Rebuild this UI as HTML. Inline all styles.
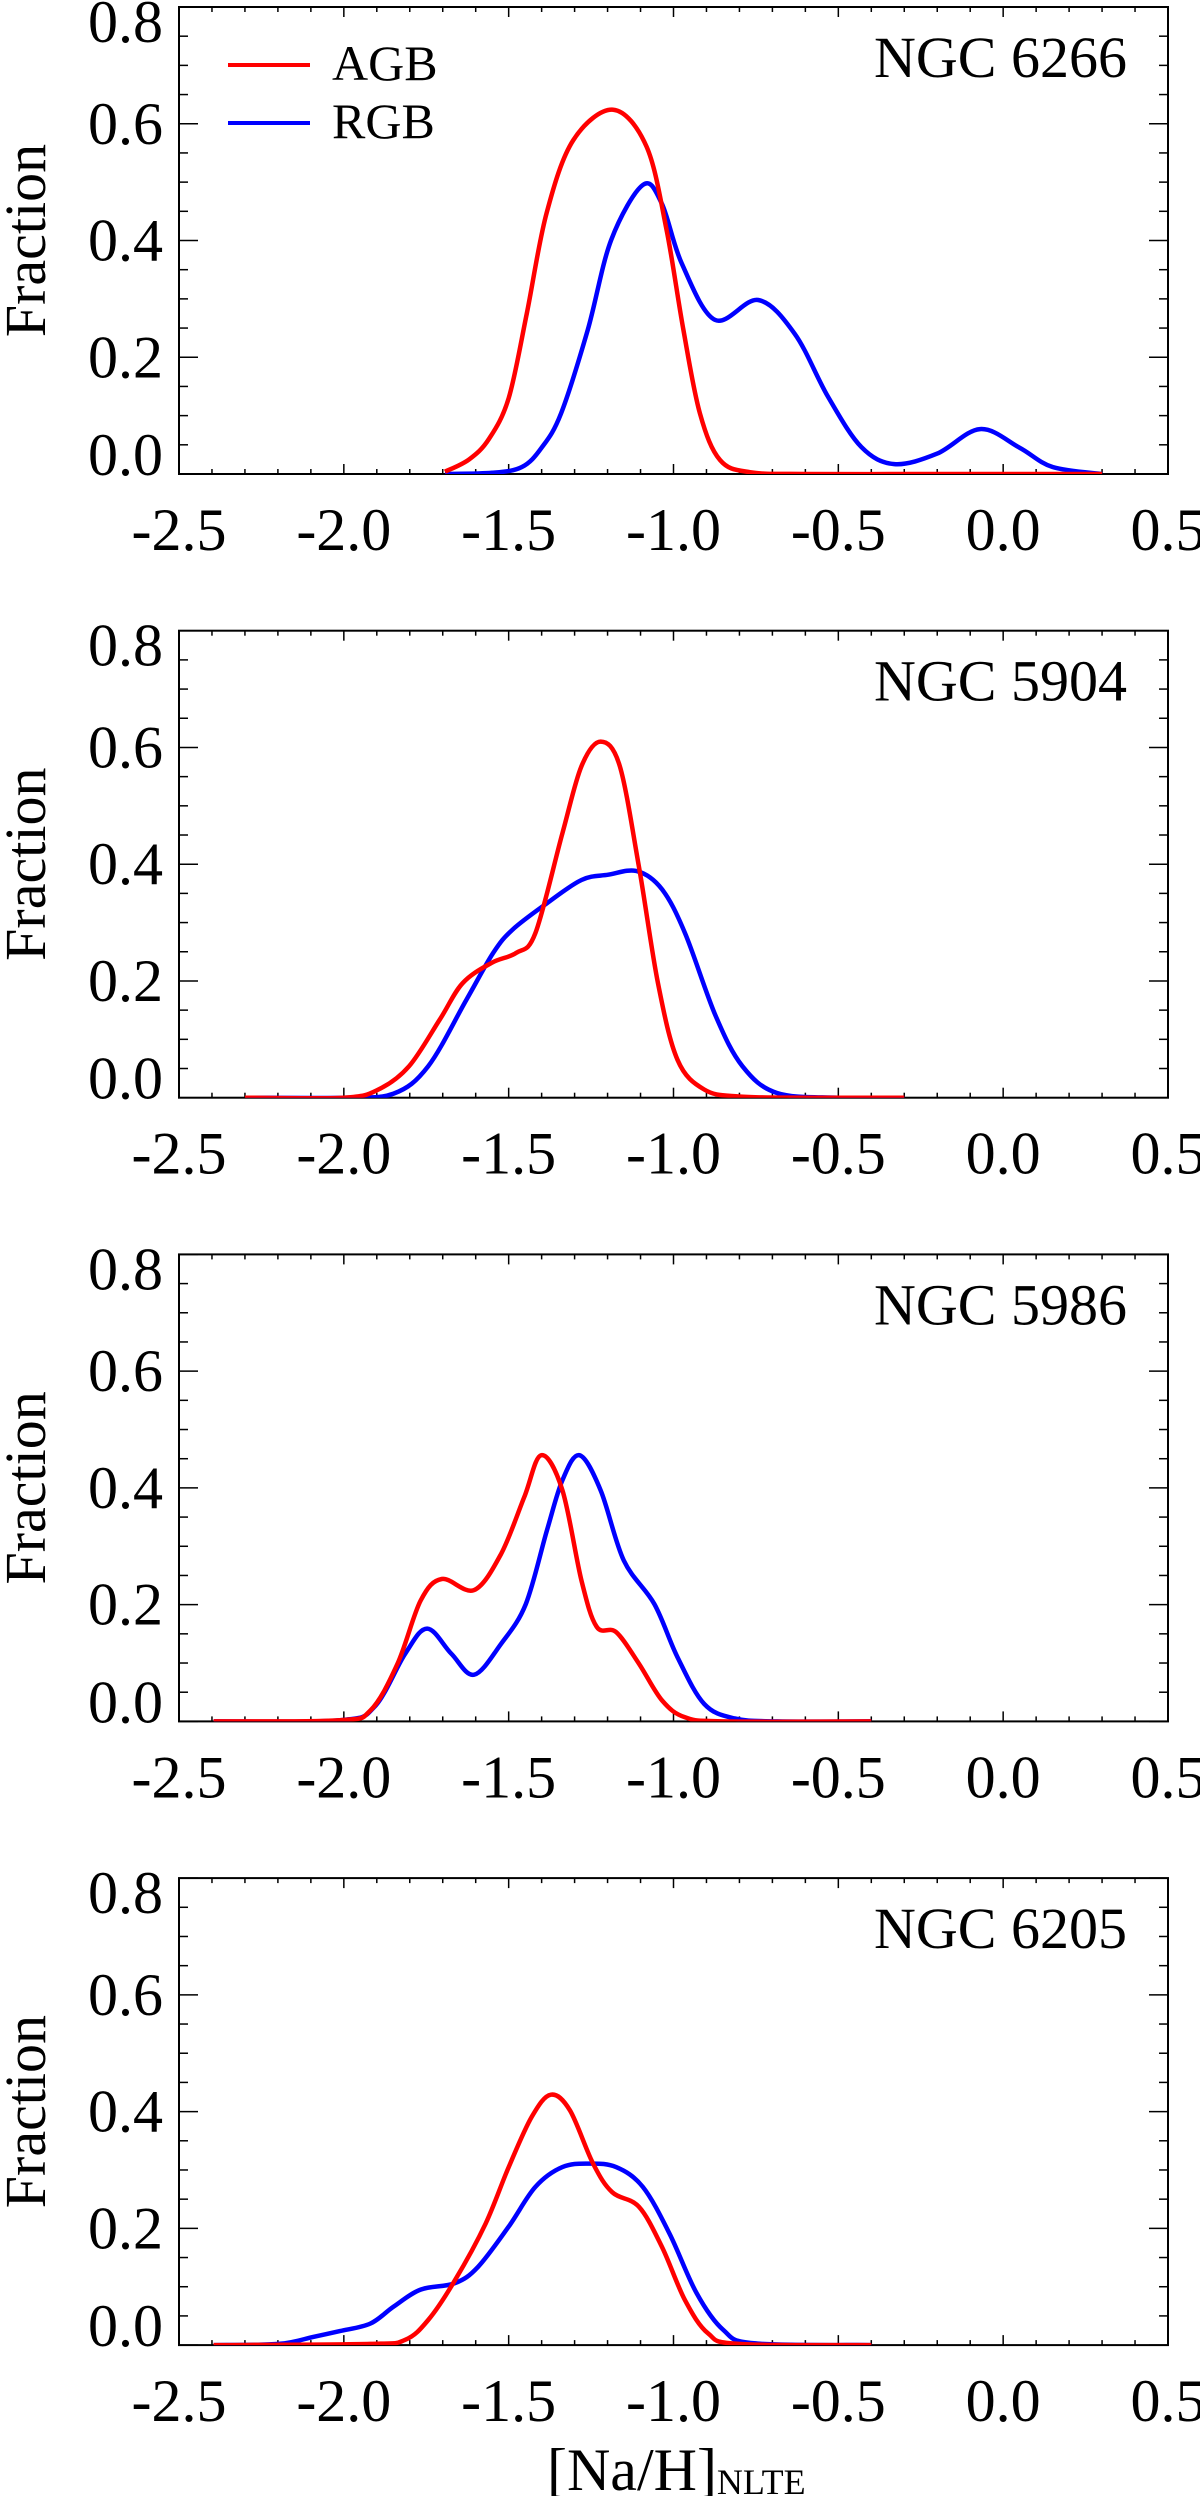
<!DOCTYPE html>
<html><head><meta charset="utf-8">
<style>
html,body{margin:0;padding:0;background:#fff;}
svg text{font-family:"Liberation Serif","Times New Roman",serif;fill:#000;}
</style></head>
<body>
<svg id="chart" width="1200" height="2496" viewBox="0 0 1200 2496" xmlns="http://www.w3.org/2000/svg"></svg>
<script>
// ---- data ----
const clusterNames = ["NGC 6266","NGC 5904","NGC 5986","NGC 6205"];
const xTickLabels = ["-2.5","-2.0","-1.5","-1.0","-0.5","0.0","0.5"];
const xTickValues = [-2.5,-2.0,-1.5,-1.0,-0.5,0.0,0.5];
const yTickLabels = ["0.0","0.2","0.4","0.6","0.8"];
const yTickValues = [0,0.2,0.4,0.6,0.8];

const agbX1 = [-1.693,-1.62,-1.56,-1.5,-1.445,-1.385,-1.304,-1.183,-1.082,-1.021,-0.970,-0.920,-0.859,-0.768,-0.6,-0.3,0.0,0.3];
const agbY1 = [0.004,0.025,0.06,0.13,0.275,0.447,0.572,0.624,0.561,0.418,0.247,0.104,0.024,0.003,0,0,0,0];
const rgbX1 = [-1.693,-1.55,-1.46,-1.4,-1.341,-1.26,-1.189,-1.093,-1.036,-0.975,-0.874,-0.743,-0.632,-0.531,-0.43,-0.33,-0.2,-0.07,0.05,0.15,0.3];
const rgbY1 = [0,0.002,0.012,0.045,0.104,0.247,0.401,0.495,0.464,0.361,0.264,0.298,0.24,0.132,0.046,0.017,0.035,0.077,0.045,0.012,0];

const agbX2 = [-2.3,-2.0,-1.895,-1.802,-1.709,-1.64,-1.552,-1.477,-1.419,-1.337,-1.279,-1.221,-1.163,-1.105,-1.047,-0.988,-0.907,-0.802,-0.6,-0.3];
const agbY2 = [0,0,0.014,0.054,0.134,0.196,0.231,0.248,0.282,0.453,0.568,0.61,0.568,0.396,0.196,0.065,0.014,0.002,0,0];
const rgbX2 = [-2.297,-2.0,-1.849,-1.744,-1.628,-1.547,-1.488,-1.384,-1.279,-1.198,-1.11,-1.035,-0.965,-0.872,-0.791,-0.686,-0.5,-0.3];
const rgbY2 = [0,0,0.007,0.054,0.168,0.248,0.288,0.333,0.373,0.382,0.388,0.357,0.282,0.14,0.054,0.008,0,0];

const agbX3 = [-2.395,-2.012,-1.919,-1.837,-1.767,-1.703,-1.605,-1.523,-1.453,-1.401,-1.337,-1.279,-1.233,-1.174,-1.105,-1.035,-0.965,-0.849,-0.4];
const agbY3 = [0,0.002,0.019,0.099,0.207,0.244,0.225,0.287,0.384,0.456,0.396,0.241,0.162,0.153,0.099,0.036,0.007,0,0];
const rgbX3 = [-2.395,-2.012,-1.907,-1.814,-1.747,-1.674,-1.605,-1.523,-1.448,-1.384,-1.337,-1.285,-1.221,-1.151,-1.058,-0.988,-0.907,-0.814,-0.686,-0.4];
const rgbY3 = [0,0.002,0.025,0.116,0.159,0.116,0.08,0.133,0.201,0.327,0.413,0.456,0.396,0.276,0.201,0.11,0.03,0.005,0,0];

const agbX4 = [-2.395,-1.919,-1.814,-1.744,-1.663,-1.57,-1.5,-1.43,-1.372,-1.314,-1.244,-1.186,-1.105,-1.035,-0.965,-0.895,-0.802,-0.4];
const agbY4 = [0,0.002,0.009,0.043,0.111,0.208,0.305,0.391,0.429,0.402,0.311,0.262,0.237,0.168,0.077,0.02,0.002,0];
const rgbX4 = [-2.395,-2.198,-2.093,-2.012,-1.919,-1.849,-1.767,-1.663,-1.593,-1.5,-1.419,-1.337,-1.256,-1.174,-1.093,-1.012,-0.93,-0.849,-0.756,-0.4];
const rgbY4 = [0,0.002,0.014,0.024,0.037,0.066,0.095,0.106,0.134,0.203,0.271,0.305,0.311,0.305,0.271,0.191,0.089,0.026,0.003,0];

const agbXs=[agbX1,agbX2,agbX3,agbX4], agbYs=[agbY1,agbY2,agbY3,agbY4];
const rgbXs=[rgbX1,rgbX2,rgbX3,rgbX4], rgbYs=[rgbY1,rgbY2,rgbY3,rgbY4];

// ---- layout ----
const NS="http://www.w3.org/2000/svg";
const svg=document.getElementById('chart');
const L=179, R=1168, PH=467, STEP=623.7, TOP0=7;
const xMin=-2.5, xMax=0.5, yMin=0, yMax=0.8;
function xs(v){return L+(v-xMin)/(xMax-xMin)*(R-L);}
function ysF(top){return v=>top+PH-(v-yMin)/(yMax-yMin)*PH;}
function mk(tag,attrs,parent){const e=document.createElementNS(NS,tag);for(const k in attrs)e.setAttribute(k,attrs[k]);(parent||svg).appendChild(e);return e;}
function smooth(pts){
  let d="M"+pts[0][0].toFixed(1)+","+pts[0][1].toFixed(1);
  for(let i=0;i<pts.length-1;i++){
    const p0=pts[Math.max(0,i-1)],p1=pts[i],p2=pts[i+1],p3=pts[Math.min(pts.length-1,i+2)];
    const c1=[p1[0]+(p2[0]-p0[0])/6,p1[1]+(p2[1]-p0[1])/6];
    const c2=[p2[0]-(p3[0]-p1[0])/6,p2[1]-(p3[1]-p1[1])/6];
    d+=" C"+c1[0].toFixed(1)+","+c1[1].toFixed(1)+" "+c2[0].toFixed(1)+","+c2[1].toFixed(1)+" "+p2[0].toFixed(1)+","+p2[1].toFixed(1);
  }
  return d;
}

for(let p=0;p<4;p++){
  const top=TOP0+p*STEP, bot=top+PH, ys=ysF(top);
  const g=mk('g',{});
  
  
  const fr=mk('rect',{x:L,y:top,width:R-L,height:PH,fill:'none',stroke:'#000','stroke-width':2},g);
  
  
  for(let i=0;i<=30;i++){
    const v=xMin+i*0.1, x=xs(v), major=(i%5===0), len=major?10:5;
    mk('line',{x1:x,y1:bot,x2:x,y2:bot-len,stroke:'#000','stroke-width':1.5},g);
    mk('line',{x1:x,y1:top,x2:x,y2:top+len,stroke:'#000','stroke-width':1.5},g);
  }
  for(let i=0;i<=16;i++){
    const v=i*0.05, y=ys(v), major=(i%4===0), len=major?19:9;
    mk('line',{x1:L,y1:y,x2:L+len,y2:y,stroke:'#000','stroke-width':1.5},g);
    mk('line',{x1:R,y1:y,x2:R-len,y2:y,stroke:'#000','stroke-width':1.5},g);
  }
  xTickValues.forEach((v,i)=>{
    const t=mk('text',{x:xs(v),y:bot+76,'font-size':60,'text-anchor':'middle'},g);
    t.textContent=xTickLabels[i];
    
    
  });
  yTickValues.forEach((v,i)=>{
    let by=ys(v)+20;
    if(i===yTickValues.length-1) by=top+35;
    if(i===0) by=bot+1;
    const t=mk('text',{x:163,y:by,'font-size':60,'text-anchor':'end'},g);
    t.textContent=yTickLabels[i];
    
    
  });
  const cy=(top+bot)/2;
  const yt=mk('text',{x:0,y:0,'font-size':58,'text-anchor':'middle',transform:'translate(45,'+cy+') rotate(-90)'},g);
  yt.textContent='Fraction';
  
  
  const ti=mk('text',{x:1127,y:top+70,'font-size':58,'text-anchor':'end'},g);
  ti.textContent=clusterNames[p];
  
  
  const clip='clip'+p;
  const cp=mk('clipPath',{id:clip},g); mk('rect',{x:L,y:top-5,width:R-L,height:PH+5},cp);
  const rp=rgbXs[p].map((v,i)=>[xs(v),ys(rgbYs[p][i])]);
  const ap=agbXs[p].map((v,i)=>[xs(v),ys(agbYs[p][i])]);
  const rl=mk('path',{d:smooth(rp),fill:'none',stroke:'#0000ff','stroke-width':4.5,'stroke-linejoin':'round','clip-path':'url(#'+clip+')'},g);
  
  
  const al=mk('path',{d:smooth(ap),fill:'none',stroke:'#ff0000','stroke-width':4.5,'stroke-linejoin':'round','clip-path':'url(#'+clip+')'},g);
  
  
}

const lg=mk('g',{});


const l1=mk('line',{x1:228,y1:65,x2:310,y2:65,stroke:'#ff0000','stroke-width':4},lg);


const t1=mk('text',{x:332,y:80,'font-size':50},lg); t1.textContent='AGB';


const l2=mk('line',{x1:228,y1:123,x2:310,y2:123,stroke:'#0000ff','stroke-width':4},lg);


const t2=mk('text',{x:332,y:138,'font-size':50},lg); t2.textContent='RGB';



const xt=mk('text',{x:547,y:2490,'font-size':60});


xt.textContent='[Na/H]';
const sub=mk('tspan',{'font-size':36,dy:4},xt); sub.textContent='NLTE';
</script>
</body></html>
